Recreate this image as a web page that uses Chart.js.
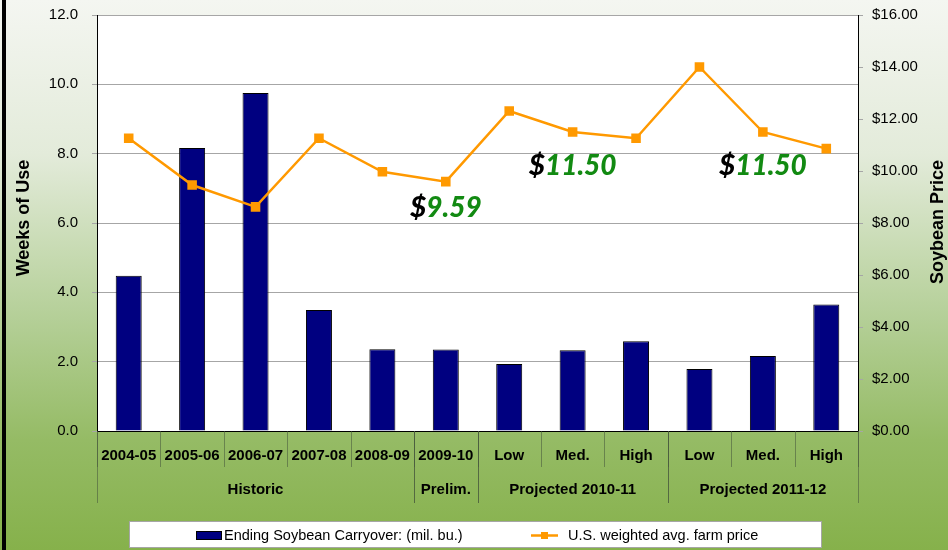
<!DOCTYPE html>
<html>
<head>
<meta charset="utf-8">
<title>Soybean carryover and price</title>
<script src="https://cdn.jsdelivr.net/npm/chart.js@4.4.1/dist/chart.umd.min.js"></script>
<style>
    html, body { margin: 0; padding: 0; }
    body { width: 948px; height: 550px; overflow: hidden; }
    #wrap {
        position: relative;
        width: 948px;
        height: 550px;
        background: linear-gradient(to bottom, #f4f6f1 0%, #e3ebda 28%, #b4cf97 58%, #95bb65 80%, #86b14b 100%);
    }
    #wrap::before {
        content: '';
        position: absolute;
        left: 2px; top: 0; bottom: 0;
        width: 4px;
        background: #000;
    }
    canvas { position: absolute; left: 0; top: 0; }
</style>
</head>
<body>
<div id="wrap"><canvas id="chart" width="948" height="550"></canvas></div>
<script>
// chart data
const categories = ['2004-05', '2005-06', '2006-07', '2007-08', '2008-09', '2009-10',
    'Low', 'Med.', 'High', 'Low', 'Med.', 'High'];
const groups = ['Historic', 'Prelim.', 'Projected 2010-11', 'Projected 2011-12'];
const groupSpans = [5, 1, 3, 3];
const carryover = [4.48, 8.16, 9.75, 3.49, 2.36, 2.35, 1.93, 2.33, 2.59, 1.79, 2.16, 3.65];
const farmPrice = [11.26, 9.46, 8.62, 11.26, 9.97, 9.59, 12.31, 11.50, 11.26, 14.00, 11.50, 10.86];
const weeksTicks = [0, 2, 4, 6, 8, 10, 12];
const priceTicks = [0, 2, 4, 6, 8, 10, 12, 14, 16];
// price callouts under the points they belong to
const calloutIndex = [5, 7, 10];
const calloutText = ['9.59', '11.50', '11.50'];

const barLabel = 'Ending Soybean Carryover: (mil. bu.)';
const lineLabel = 'U.S. weighted avg. farm price';

const BASE_FONT = '"Liberation Sans", Arial, sans-serif';

// white plot area behind the bars
const plotBackground = {
    id: 'plotBackground',
    beforeDraw(chart) {
        const { ctx, chartArea: a } = chart;
        ctx.save();
        ctx.fillStyle = '#ffffff';
        ctx.fillRect(a.left, a.top, a.right - a.left, a.bottom - a.top);
        ctx.restore();
    }
};

// two row category axis + axis titles + legend box
const chartDecor = {
    id: 'chartDecor',
    afterDraw(chart) {
        const { ctx, chartArea: a } = chart;
        const x = chart.scales.x;
        const step = (x.right - x.left) / categories.length;

        ctx.save();
        ctx.strokeStyle = 'rgba(70, 85, 60, 0.55)';
        ctx.lineWidth = 1;

        // short separators between categories
        for (let i = 0; i <= categories.length; i++) {
            const px = Math.round(x.left + i * step) + 0.5;
            ctx.beginPath();
            ctx.moveTo(px, a.bottom);
            ctx.lineTo(px, a.bottom + 36);
            ctx.stroke();
        }

        // group separators and labels
        ctx.font = 'bold 15px ' + BASE_FONT;
        ctx.fillStyle = '#000';
        ctx.textAlign = 'center';
        ctx.textBaseline = 'middle';
        let start = 0;
        groups.forEach((g, gi) => {
            const end = start + groupSpans[gi];
            [start, end].forEach(k => {
                const px = Math.round(x.left + k * step) + 0.5;
                ctx.beginPath();
                ctx.moveTo(px, a.bottom);
                ctx.lineTo(px, a.bottom + 72);
                ctx.stroke();
            });
            ctx.fillText(g, x.left + (start + end) / 2 * step, a.bottom + 59);
            start = end;
        });

        // axis titles
        ctx.font = 'bold 18px ' + BASE_FONT;
        const midY = (a.top + a.bottom) / 2;
        ctx.save();
        ctx.translate(24, midY - 5);
        ctx.rotate(-Math.PI / 2);
        ctx.fillText('Weeks of Use', 0, 0);
        ctx.restore();
        ctx.save();
        ctx.translate(938, midY - 1);
        ctx.rotate(-Math.PI / 2);
        ctx.fillText('Soybean Price', 0, 0);
        ctx.restore();

        // legend
        const ds = chart.data.datasets;
        ctx.fillStyle = '#ffffff';
        ctx.fillRect(129.5, 521.5, 692, 26);
        ctx.strokeStyle = '#a6a6a6';
        ctx.strokeRect(129.5, 521.5, 692, 26);

        const bar = ds.find(d => d.type === 'bar');
        const line = ds.find(d => d.type === 'line');
        ctx.fillStyle = bar.backgroundColor;
        ctx.fillRect(196, 531, 26, 9);
        ctx.strokeStyle = '#000';
        ctx.strokeRect(196.5, 531.5, 25, 8);

        ctx.strokeStyle = line.borderColor;
        ctx.lineWidth = 2.5;
        ctx.beginPath();
        ctx.moveTo(531, 535.5);
        ctx.lineTo(558, 535.5);
        ctx.stroke();
        ctx.fillStyle = line.pointBackgroundColor;
        ctx.fillRect(541, 532, 7, 7);

        ctx.fillStyle = '#000';
        ctx.textAlign = 'left';
        ctx.font = '14.5px ' + BASE_FONT;
        ctx.fillText(bar.label, 224, 535.5);
        ctx.fillText(line.label, 568, 535.5);
        ctx.restore();
    }
};

// "$9.59" style callouts
const priceCallouts = {
    id: 'priceCallouts',
    afterDatasetsDraw(chart, args, opts) {
        const { ctx } = chart;
        const x = chart.scales.x;
        const y = chart.scales.yPrice;
        ctx.save();
        ctx.font = 'italic 900 28px Lato, "Open Sans", sans-serif';
        ctx.textBaseline = 'middle';
        ctx.textAlign = 'left';
        calloutIndex.forEach((idx, i) => {
            const cx = x.getPixelForValue(idx);
            const cy = y.getPixelForValue(farmPrice[idx]) + opts.offsets[i];
            const w1 = ctx.measureText('$').width;
            const w2 = ctx.measureText(calloutText[i]).width;
            const left = cx - (w1 + w2) / 2;
            ctx.fillStyle = '#000';
            ctx.fillText('$', left, cy);
            ctx.fillStyle = '#128a12';
            ctx.fillText(calloutText[i], left + w1, cy);
        });
        ctx.restore();
    }
};

// fixed axis box sizes so the plot sits where the original one does
const fixSize = (w, h) => s => {
    if (w !== null) s.width = w;
    if (h !== null) s.height = h;
    s.paddingTop = 0;
    s.paddingBottom = 0;
};

new Chart(document.getElementById('chart'), {
    data: {
        labels: categories,
        datasets: [
            {
                type: 'line',
                label: lineLabel,
                data: farmPrice,
                yAxisID: 'yPrice',
                borderColor: '#ff9900',
                backgroundColor: '#ff9900',
                pointBackgroundColor: '#ff9900',
                pointBorderColor: '#ff9900',
                borderWidth: 2.5,
                pointStyle: 'rect',
                pointRadius: 5,
                tension: 0,
                order: 0
            },
            {
                type: 'bar',
                label: barLabel,
                data: carryover,
                yAxisID: 'yWeeks',
                backgroundColor: '#000080',
                borderColor: '#000000',
                borderWidth: 1,
                categoryPercentage: 1,
                barPercentage: 0.41,
                order: 1
            }
        ]
    },
    options: {
        responsive: false,
        animation: false,
        layout: { padding: { top: 15, left: 0, right: 0, bottom: 0 } },
        plugins: {
            legend: { display: false },
            tooltip: { enabled: false },
            priceCallouts: { offsets: [26, 34, 34] }
        },
        scales: {
            x: {
                offset: true,
                afterFit: fixSize(null, 119),
                grid: { display: true, drawOnChartArea: false, drawTicks: false, color: 'rgba(0,0,0,0)' },
                border: { display: true, color: '#000', width: 1 },
                ticks: {
                    color: '#000',
                    padding: 16,
                    maxRotation: 0,
                    autoSkip: false,
                    font: { family: BASE_FONT, size: 15, weight: 'bold' }
                }
            },
            yWeeks: {
                position: 'left',
                min: weeksTicks[0],
                max: weeksTicks[weeksTicks.length - 1],
                afterFit: fixSize(97, null),
                afterBuildTicks: s => { s.ticks = weeksTicks.map(v => ({ value: v })); },
                grid: { color: '#a6a6a6', tickLength: 5 },
                border: { color: '#000', width: 1 },
                ticks: {
                    color: '#000',
                    padding: 14,
                    font: { family: BASE_FONT, size: 15 },
                    callback: v => v.toFixed(1)
                }
            },
            yPrice: {
                position: 'right',
                min: priceTicks[0],
                max: priceTicks[priceTicks.length - 1],
                afterFit: fixSize(90, null),
                afterBuildTicks: s => { s.ticks = priceTicks.map(v => ({ value: v })); },
                grid: { drawOnChartArea: false, color: '#a6a6a6', tickLength: 5 },
                border: { color: '#000', width: 1 },
                ticks: {
                    color: '#000',
                    padding: 9,
                    font: { family: BASE_FONT, size: 15 },
                    callback: v => '$' + v.toFixed(2)
                }
            }
        }
    },
    plugins: [plotBackground, priceCallouts, chartDecor]
});
</script>
</body>
</html>
